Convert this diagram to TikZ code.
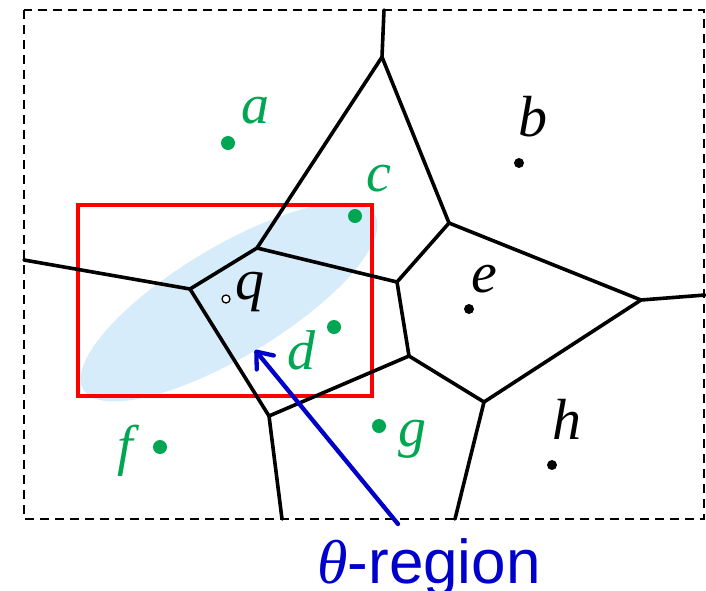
\documentclass[tikz,border=0pt]{standalone}
\usepackage{fontspec}
\setmainfont{Liberation Serif}
\newfontfamily\arialfont{Liberation Sans}
\usetikzlibrary{arrows.meta}
\definecolor{sitegreen}{RGB}{0,166,81}
\definecolor{ellblue}{RGB}{214,236,250}
\definecolor{arrowblue}{RGB}{0,0,200}
\definecolor{textblue}{RGB}{0,0,204}
\begin{document}
\begin{tikzpicture}[x=1pt,y=-1pt,
  edge/.style={black,line width=3.6pt,line cap=round,line join=round},
  gsite/.style={circle,fill=sitegreen,inner sep=0pt,minimum size=14pt},
  ksite/.style={circle,fill=black,inner sep=0pt,minimum size=10pt},
  qsite/.style={circle,draw=black,fill=white,line width=1.3pt,inner sep=0pt,minimum size=8pt},
  glabel/.style={anchor=base,inner sep=0pt,text=sitegreen,font=\fontsize{56}{60}\selectfont\itshape},
  klabel/.style={anchor=base,inner sep=0pt,text=black,font=\fontsize{58}{60}\selectfont\itshape},
  boundary/.style={black,line width=2.8pt,dash pattern=on 9pt off 6pt},
  query/.style={red,line width=4.3pt},
  pointer/.style={arrowblue,line width=4.3pt,line cap=round,-{Straight Barb[length=14pt,width=22pt,line width=4.3pt,round]}}
]
\useasboundingbox (0,0) rectangle (706,590);
% theta-region ellipse
\fill[ellblue,rotate around={31:(229,302)}] (229,302) ellipse [x radius=170pt,y radius=55pt];
% query rectangle
\draw[query] (78,205) rectangle (372,396);
% bounding box
\draw[boundary] (24,10) rectangle (704,519);
% Voronoi vertices
\coordinate (t0) at (384,10);
\coordinate (v1) at (382,57);
\coordinate (v2) at (449,223);
\coordinate (v3) at (257,248);
\coordinate (v4) at (190,289);
\coordinate (l0) at (24,260);
\coordinate (v5) at (397,282);
\coordinate (v6) at (641,300);
\coordinate (r0) at (705,295);
\coordinate (v7) at (409,356);
\coordinate (v8) at (269,416);
\coordinate (b1) at (282,519);
\coordinate (v9) at (484,402);
\coordinate (b2) at (455,519);
% Voronoi edges
\draw[edge] (t0) -- (v1);
\draw[edge] (v1) -- (v2);
\draw[edge] (v1) -- (v3);
\draw[edge] (v3) -- (v4);
\draw[edge] (l0) -- (v4);
\draw[edge] (v3) -- (v5);
\draw[edge] (v5) -- (v2);
\draw[edge] (v2) -- (v6);
\draw[edge] (v6) -- (r0);
\draw[edge] (v5) -- (v7);
\draw[edge] (v7) -- (v8);
\draw[edge] (v8) -- (v4);
\draw[edge] (v8) -- (b1);
\draw[edge] (v7) -- (v9);
\draw[edge] (v9) -- (v6);
\draw[edge] (v9) -- (b2);
% sites
\node[gsite] (a) at (228,143) {};
\node[gsite] (c) at (355,216) {};
\node[gsite] (d) at (334,327) {};
\node[gsite] (g) at (379,426) {};
\node[gsite] (f) at (160,447) {};
\node[ksite] (b) at (519,163) {};
\node[ksite] (e) at (469,309) {};
\node[ksite] (h) at (552,465) {};
\node[qsite] (q) at (226,299) {};
% labels
\node[glabel] (la) at (255,123) {a};
\node[glabel] (lc) at (379,191) {c};
\node[glabel] (ld) at (301,369) {d};
\node[glabel] (lg) at (412,446) {g};
\node[glabel] (lf) at (125,464) {f};
\node[klabel] (lb) at (533,136) {b};
\node[klabel] (le) at (484,292) {e};
\node[klabel] (lq) at (250,299) {q};
\node[klabel] (lh) at (567,439) {h};
% theta-region
\node[anchor=base,inner sep=0pt,text=textblue] (tr) at (429,583)
  {\fontsize{62}{64}\selectfont\itshape θ\arialfont\upshape -region};
\coordinate (atail) at (398,524);
\coordinate (ahead) at (255,350);
\draw[pointer] (atail) -- (ahead);
\end{tikzpicture}
\end{document}
